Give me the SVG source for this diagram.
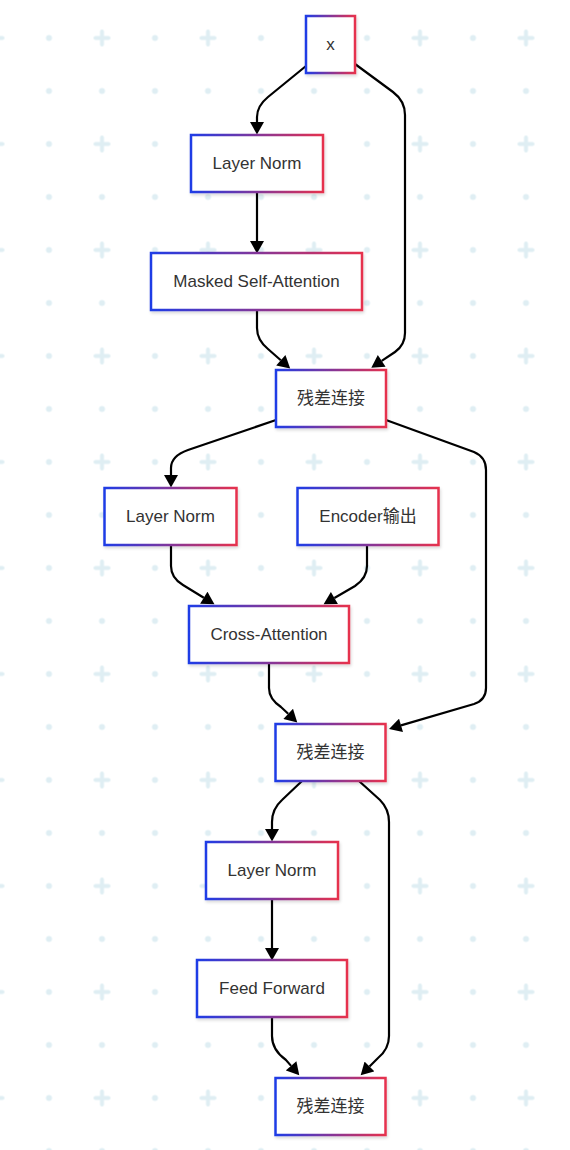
<svg xmlns="http://www.w3.org/2000/svg" width="570" height="1150" viewBox="0 0 570 1150">
  <style>
    .node rect { fill: #ffffff; stroke: url(#borderGrad); stroke-width: 2.5; filter: url(#shadow); }
    .node text { font-family: "Liberation Sans", Arial, "Noto Sans CJK SC", sans-serif; font-size: 17px; fill: #333333; text-anchor: middle; dominant-baseline: central; }
    .edge { fill: none; stroke: #000000; stroke-width: 2.2; marker-end: url(#arrow); }
    .bgmark { fill: #dfeef3; }
    .bgplus { stroke: #dfeef3; stroke-width: 4; stroke-linecap: round; }
  </style>
  <defs>
    <linearGradient id="borderGrad" x1="0" y1="0" x2="1" y2="0">
      <stop offset="0" stop-color="#1f3ce6"/>
      <stop offset="1" stop-color="#e6304d"/>
    </linearGradient>
    <filter id="shadow" x="-20%" y="-20%" width="140%" height="150%">
      <feDropShadow dx="1" dy="2" stdDeviation="1.5" flood-color="#000000" flood-opacity="0.15"/>
    </filter>
    <marker id="arrow" markerUnits="userSpaceOnUse" markerWidth="14" markerHeight="14" refX="0" refY="7" orient="auto" viewBox="0 0 13 14">
      <path d="M0,0 L12.5,7 L0,14 Z" fill="#000000"/>
    </marker>
    <pattern id="bg" patternUnits="userSpaceOnUse" x="22.5" y="-41.5" width="106" height="106">
      <circle class="bgmark" cx="26.5" cy="26.5" r="3"/>
      <circle class="bgmark" cx="79.5" cy="26.5" r="3"/>
      <circle class="bgmark" cx="26.5" cy="79.5" r="3"/>
      <line class="bgplus" x1="73" y1="79.5" x2="86" y2="79.5"/>
      <line class="bgplus" x1="79.5" y1="73" x2="79.5" y2="86"/>
    </pattern>
  </defs>

  <rect x="0" y="0" width="570" height="1150" fill="#ffffff"/>
  <rect x="0" y="0" width="570" height="1150" fill="url(#bg)"/>

  <g id="connectors">
    <path class="edge" d="M306,66 L268,97 Q257,106 257,117 L257,122"/>
    <path class="edge" d="M355,64 L393,92 Q405,101 405,115 L405,333 Q405,345 395,352 L381.7,360.9"/>
    <path class="edge" d="M257,192 L257,241"/>
    <path class="edge" d="M257,310 L257,328 Q257,340 268,349 L280.8,360.3"/>
    <path class="edge" d="M276,420 L188,450 Q171,456 171,468 L171,475"/>
    <path class="edge" d="M386,420 L474,452 Q486,457 486,470 L486,688 Q486,700 474,704 L401,725.4"/>
    <path class="edge" d="M171,545 L171,566 Q171,578 183,585 L203.8,597.7"/>
    <path class="edge" d="M367,545 L367,566 Q367,578 355,586 L334.4,598"/>
    <path class="edge" d="M269,663 L269,688 Q269,699 281,707 L288.2,713.8"/>
    <path class="edge" d="M302,781 L282,800 Q272,809 272,822 L272,829"/>
    <path class="edge" d="M359,781 L380,800 Q389,809 389,822 L389,1036 Q389,1049 378,1058 L369.5,1066.5"/>
    <path class="edge" d="M272,899 L272,948"/>
    <path class="edge" d="M272,1017 L272,1036 Q272,1050 286,1060 L291.1,1065.9"/>
  </g>

  <g id="node-x" class="node">
    <rect x="306" y="16" width="49" height="57"/>
    <text x="330.5" y="44.5">x</text>
  </g>
  <g id="node-ln1" class="node">
    <rect x="191" y="135" width="132" height="57"/>
    <text x="257" y="163.5">Layer Norm</text>
  </g>
  <g id="node-msa" class="node">
    <rect x="151" y="253" width="211" height="57"/>
    <text x="256.5" y="281.5">Masked Self-Attention</text>
  </g>
  <g id="node-res1" class="node">
    <rect x="276" y="370" width="110" height="57"/>
    <text x="331" y="398.5">残差连接</text>
  </g>
  <g id="node-ln2" class="node">
    <rect x="104.5" y="488" width="132" height="57"/>
    <text x="170.5" y="516.5">Layer Norm</text>
  </g>
  <g id="node-enc" class="node">
    <rect x="297.5" y="488" width="141" height="57"/>
    <text x="368" y="516.5">Encoder输出</text>
  </g>
  <g id="node-ca" class="node">
    <rect x="189" y="606" width="160" height="57"/>
    <text x="269" y="634.5">Cross-Attention</text>
  </g>
  <g id="node-res2" class="node">
    <rect x="275.5" y="724" width="110" height="57"/>
    <text x="330.5" y="752.5">残差连接</text>
  </g>
  <g id="node-ln3" class="node">
    <rect x="206" y="842" width="132" height="57"/>
    <text x="272" y="870.5">Layer Norm</text>
  </g>
  <g id="node-ff" class="node">
    <rect x="197" y="960" width="150" height="57"/>
    <text x="272" y="988.5">Feed Forward</text>
  </g>
  <g id="node-res3" class="node">
    <rect x="275.5" y="1078" width="110" height="57"/>
    <text x="330.5" y="1106.5">残差连接</text>
  </g>
</svg>
